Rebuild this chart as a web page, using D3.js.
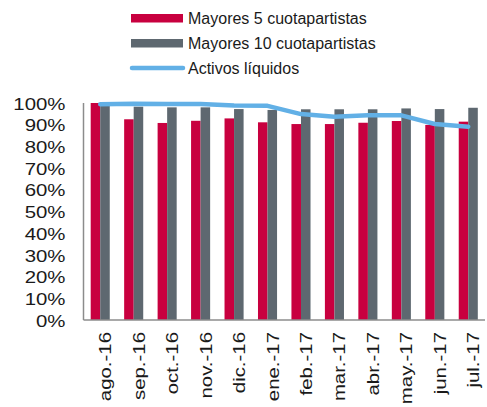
<!DOCTYPE html>
<meta charset="utf-8">
<style>

body { margin: 0; background: #fff; }

text {
  font-family: "Liberation Sans", Arial, sans-serif;
  fill: #1a1a1a;
}

.axis path {
  stroke: #8c8c8c;
  stroke-width: 1.5;
}

</style>
<body>
<script src="https://d3js.org/d3.v7.min.js"></script>
<script>

var months = ["ago.-16", "sep.-16", "oct.-16", "nov.-16", "dic.-16", "ene.-17",
              "feb.-17", "mar.-17", "abr.-17", "may.-17", "jun.-17", "jul.-17"];

var top5  = [1.00, 0.925, 0.908, 0.918, 0.929, 0.911, 0.903, 0.903, 0.909, 0.917, 0.899, 0.914];
var top10 = [1.00, 0.983, 0.980, 0.980, 0.972, 0.968, 0.971, 0.971, 0.971, 0.975, 0.972, 0.978];
var liquid = [0.994, 0.997, 0.995, 0.995, 0.988, 0.987, 0.949, 0.937, 0.943, 0.943, 0.903, 0.891];

var yTicks = [0, 0.1, 0.2, 0.3, 0.4, 0.5, 0.6, 0.7, 0.8, 0.9, 1.0];

var seriesNames = ["Mayores 5 cuotapartistas", "Mayores 10 cuotapartistas", "Activos líquidos"];

var red = "#c8003f",
    grey = "#5e6870",
    blue = "#62b0e6";

var width = 487,
    height = 407;

var plot = {left: 83.5, right: 485, top: 103, bottom: 320};

var svg = d3.select("body").append("svg")
    .attr("width", width)
    .attr("height", height);

/*
  Scales
*/

var x = d3.scaleBand()
    .domain(months)
    .range([plot.left, plot.right])
    .paddingInner(0.43)
    .paddingOuter(0.215);

var x1 = d3.scaleBand()
    .domain(["top5", "top10"])
    .range([0, x.bandwidth()]);

var y = d3.scaleLinear()
    .domain([0, 1])
    .range([plot.bottom, plot.top]);

/*
  Bars
*/

var groups = svg.append("g").selectAll("g")
    .data(months)
    .enter().append("g")
    .attr("transform", function(d) { return "translate(" + x(d) + ",0)"; });

groups.append("rect")
    .attr("x", x1("top5"))
    .attr("width", x1.bandwidth())
    .attr("y", function(d, i) { return y(top5[i]); })
    .attr("height", function(d, i) { return y(0) - y(top5[i]); })
    .style("fill", red);

groups.append("rect")
    .attr("x", x1("top10"))
    .attr("width", x1.bandwidth())
    .attr("y", function(d, i) { return y(top10[i]); })
    .attr("height", function(d, i) { return y(0) - y(top10[i]); })
    .style("fill", grey);

/*
  Line
*/

var line = d3.line()
    .x(function(d, i) { return x(months[i]) + x.bandwidth() / 2; })
    .y(function(d) { return y(d); });

svg.append("path")
    .datum(liquid)
    .attr("d", line)
    .style("fill", "none")
    .style("stroke", blue)
    .style("stroke-width", 4.5)
    .style("stroke-linecap", "round")
    .style("stroke-linejoin", "round");

/*
  Axes
*/

var yAxis = svg.append("g")
    .attr("class", "axis")
    .attr("transform", "translate(" + plot.left + ",0)")
    .call(d3.axisLeft(y).tickValues(yTicks).tickSize(0).tickFormat(d3.format(".0%")));

yAxis.select(".domain").attr("d", "M0," + plot.top + "V" + plot.bottom);

yAxis.selectAll("text")
    .attr("x", null)
    .attr("dy", "0.36em")
    .attr("transform", "translate(-18,0) scale(1.2,1)")
    .style("font-size", "17px")
    .style("fill", "#1a1a1a")
    .style("font-family", "'Liberation Sans', Arial, sans-serif");

var xAxis = svg.append("g")
    .attr("class", "axis")
    .attr("transform", "translate(0," + plot.bottom + ")")
    .call(d3.axisBottom(x).tickSize(0));

xAxis.select(".domain").attr("d", "M" + plot.left + ",0H" + plot.right);

xAxis.selectAll("text")
    .attr("y", null)
    .attr("dy", null)
    .attr("text-anchor", "end")
    .attr("transform", "translate(11,12) rotate(-90) scale(1.2,1)")
    .style("font-size", "17px")
    .style("fill", "#1a1a1a")
    .style("font-family", "'Liberation Sans', Arial, sans-serif");

/*
  Legend
*/

var legend = svg.append("g")
    .attr("transform", "translate(131,18)");

var rows = legend.selectAll("g")
    .data(seriesNames)
    .enter().append("g")
    .attr("transform", function(d, i) { return "translate(0," + i * 25 + ")"; });

rows.filter(function(d, i) { return i < 2; }).append("rect")
    .attr("x", 0)
    .attr("y", -4)
    .attr("width", 52)
    .attr("height", 8.5)
    .style("fill", function(d, i) { return i == 0 ? red : grey; });

rows.filter(function(d, i) { return i == 2; }).append("line")
    .attr("x1", 1)
    .attr("x2", 52)
    .style("stroke", blue)
    .style("stroke-width", 4.5)
    .style("stroke-linecap", "round");

rows.append("text")
    .attr("x", 57)
    .attr("y", 5.5)
    .style("font-size", "16px")
    .text(function(d) { return d; });

</script>
